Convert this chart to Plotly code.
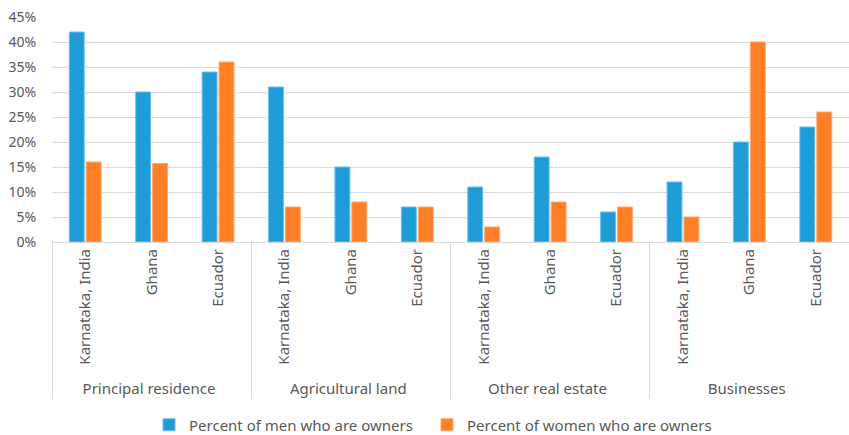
import plotly.graph_objects as go

asset_types = ["Principal residence", "Agricultural land", "Other real estate", "Businesses"]
countries = ["Karnataka, India", "Ghana", "Ecuador"]
men_pct = [42, 30, 34, 31, 15, 7, 11, 17, 6, 12, 20, 23]
women_pct = [16, 15.7, 36, 7, 8, 7, 3, 8, 7, 5, 40, 26]
y_ticks = [0, 5, 10, 15, 20, 25, 30, 35, 40, 45]

outer = [a for a in asset_types for _ in countries]
inner = [c for _ in asset_types for c in countries]

fig = go.Figure()
fig.add_trace(go.Bar(x=[outer, inner], y=[v / 100 for v in men_pct],
                     name="Percent of men who are owners", legend="legend",
                     marker=dict(color="#1E9CD7", line=dict(color="#6CC0EA", width=1))))
fig.add_trace(go.Bar(x=[outer, inner], y=[v / 100 for v in women_pct],
                     name="Percent of women who are owners", legend="legend2",
                     marker=dict(color="#FF7F27", line=dict(color="#FFA86B", width=1))))

legend_common = dict(orientation="h", xanchor="left", xref="container",
                     y=0.023, yanchor="middle", yref="container",
                     font=dict(size=15, color="#595959"), itemwidth=30,
                     bgcolor="rgba(0,0,0,0)")

fig.update_layout(
    width=849, height=435,
    margin=dict(l=52, r=0, t=17, b=193),
    paper_bgcolor="white", plot_bgcolor="white",
    barmode="group", bargap=0.49, bargroupgap=0.12,
    font=dict(family="Noto Sans, Open Sans, sans-serif", size=15, color="#595959"),
    legend=dict(x=149 / 849, **legend_common),
    legend2=dict(x=427 / 849, **legend_common),
    showlegend=True,
)
fig.update_yaxes(range=[0, 0.45], tickvals=[t / 100 for t in y_ticks],
                 ticktext=[f"{t}%" for t in y_ticks], automargin=False,
                 showgrid=True, gridcolor="#D9D9D9", gridwidth=1,
                 zeroline=False, showline=False, ticks="outside", ticklen=12,
                 tickcolor="rgba(0,0,0,0)",
                 tickfont=dict(size=14, color="#595959"))
fig.update_xaxes(type="multicategory", tickangle=-90, showline=True, linecolor="#D9D9D9",
                 linewidth=1, showdividers=True, dividercolor="#D9D9D9", dividerwidth=1,
                 automargin=False,
                 tickfont=dict(size=15, color="#595959"), ticks="")

fig.write_html("out.html", config={"displayModeBar": False},
               post_script="document.body.style.margin='0';")
